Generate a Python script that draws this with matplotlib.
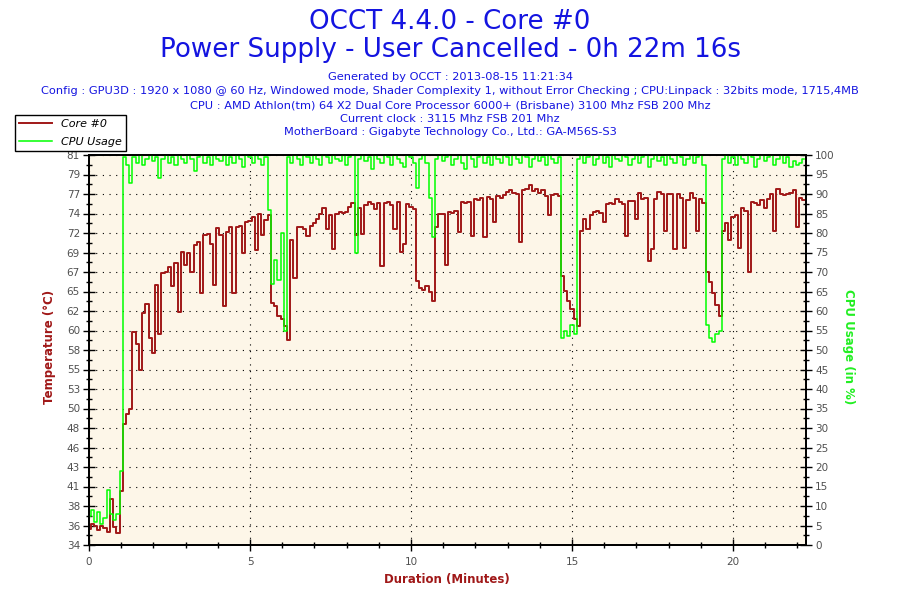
import matplotlib
matplotlib.use('agg')
import matplotlib.pyplot as plt
from matplotlib.ticker import AutoMinorLocator, FixedLocator, MultipleLocator
import numpy as np

# OCCT log, one sample every 6 seconds
SAMPLE_SECONDS = 6
TEST_SECONDS = 22 * 60 + 16

core0_temp = [
    36.2, 36.8, 36.5, 36.1, 36.6, 36.3, 35.8, 39.8, 36.4, 35.7,
    40.8, 49.0, 50.2, 50.8, 60.2, 58.8, 55.6, 62.5, 63.6, 59.5,
    57.6, 66.0, 60.0, 67.4, 67.6, 68.1, 65.8, 68.6, 62.6, 70.0,
    68.4, 69.8, 67.5, 70.8, 71.2, 65.0, 72.0, 72.2, 71.0, 66.0,
    72.9, 72.0, 63.4, 72.4, 73.0, 65.0, 73.0, 73.2, 69.8, 73.6,
    73.8, 74.3, 70.2, 74.6, 72.0, 73.9, 74.5, 63.8, 63.4, 62.2,
    61.8, 61.0, 59.2, 71.4, 66.8, 73.0, 73.0, 72.8, 71.9, 73.2,
    73.5, 74.0, 74.6, 75.3, 72.8, 74.5, 70.4, 74.6, 74.9, 74.8,
    74.9, 75.5, 76.0, 72.0, 75.3, 72.2, 75.7, 76.1, 75.8, 75.2,
    76.0, 68.3, 76.0, 76.1, 75.7, 72.8, 76.1, 70.0, 71.0, 75.8,
    75.5, 75.2, 66.5, 65.6, 65.3, 65.8, 65.1, 64.0, 73.0, 74.6,
    74.6, 68.4, 74.9, 74.7, 75.0, 72.4, 76.1, 76.0, 76.1, 71.9,
    76.5, 76.3, 76.6, 71.8, 76.7, 76.5, 73.6, 76.8, 76.6, 76.9,
    77.3, 77.5, 77.2, 77.0, 71.2, 77.6, 77.7, 78.2, 77.4, 77.7,
    77.2, 77.5, 76.8, 74.5, 76.9, 77.0, 76.8, 67.0, 65.2, 64.0,
    63.0, 61.8, 61.0, 72.5, 74.0, 72.8, 74.5, 74.9, 75.0, 74.8,
    73.7, 75.8, 76.0, 75.9, 76.5, 76.1, 75.9, 71.9, 76.2, 76.2,
    74.0, 77.2, 76.5, 76.6, 68.9, 70.3, 76.5, 77.3, 77.0, 72.5,
    77.1, 77.0, 70.3, 77.0, 76.6, 70.5, 76.3, 77.2, 76.6, 72.6,
    76.4, 76.0, 67.5, 66.3, 65.0, 63.5, 62.2, 72.5, 73.5, 71.5,
    74.2, 74.5, 70.5, 75.4, 75.0, 67.6, 76.1, 76.0, 75.7, 76.3,
    75.3, 76.4, 77.0, 72.6, 77.7, 77.0, 76.9, 77.1, 77.2, 77.5,
    73.0, 76.6, 76.3,
]

cpu_usage = [
    7.5, 9.0, 6.0, 8.5, 5.5, 7.0, 14.0, 8.0, 6.5, 8.0,
    19.0, 99.5, 97.5, 92.8, 99.5, 98.0, 100, 97.5, 99.0, 100,
    98.5, 99.5, 94.0, 99.0, 100, 98.0, 99.5, 97.5, 100, 99.0,
    98.0, 100, 99.0, 96.0, 99.5, 100, 98.0, 99.5, 97.5, 100,
    99.0, 98.5, 100, 97.5, 99.5, 98.0, 100, 99.0, 97.0, 100,
    99.5, 98.0, 100, 99.0, 97.5, 99.5, 86.0, 67.0, 73.0, 68.0,
    80.0, 55.0, 99.5, 98.0, 100, 99.0, 97.5, 100, 99.5, 98.0,
    100, 99.0, 97.5, 100, 99.5, 98.0, 100, 99.0, 98.5, 100,
    97.5, 99.5, 100, 74.8, 99.0, 100, 98.5, 99.5, 96.5, 100,
    99.0, 98.0, 100, 99.5, 97.5, 100, 99.0, 98.0, 97.0, 100,
    99.5, 98.0, 91.5, 99.0, 100, 98.0, 89.0, 79.0, 99.0, 100,
    98.5, 99.5, 100, 97.5, 99.0, 100, 98.0, 96.5, 100, 99.0,
    97.0, 99.5, 100, 98.0, 99.5, 97.5, 100, 99.0, 98.0, 100,
    99.5, 97.5, 100, 99.0, 98.0, 100, 99.5, 97.0, 99.0, 100,
    98.5, 99.5, 97.5, 100, 99.0, 98.0, 99.5, 53.0, 55.0, 53.5,
    56.4, 54.0, 99.0, 100, 98.0, 99.5, 100, 97.5, 99.0, 100,
    98.0, 99.5, 97.0, 100, 99.0, 98.5, 100, 99.5, 97.5, 99.0,
    100, 98.0, 99.5, 100, 97.0, 99.0, 100, 98.5, 99.5, 97.5,
    100, 99.0, 98.0, 100, 99.5, 97.5, 99.0, 100, 98.0, 99.5,
    100, 97.5, 56.4, 53.0, 52.0, 54.0, 55.0, 99.0, 100, 98.0,
    99.5, 97.5, 100, 99.0, 98.0, 100, 99.5, 97.0, 99.0, 100,
    98.5, 99.5, 100, 97.5, 99.0, 100, 98.0, 99.5, 97.0, 98.5,
    97.5, 98.0, 99.0,
]

# left axis is scaled so that its ticks sit on the 5 % steps of the right one
TEMP_MIN, TEMP_MAX = 34.22, 81.82
temp_tick_labels = ['34', '36', '38', '41', '43', '46', '48', '50', '53', '55',
                    '58', '60', '62', '65', '67', '69', '72', '74', '77', '79',
                    '81']
cpu_ticks = [0, 5, 10, 15, 20, 25, 30, 35, 40, 45, 50,
             55, 60, 65, 70, 75, 80, 85, 90, 95, 100]
duration_ticks = [0, 5, 10, 15, 20]

title_lines = ['OCCT 4.4.0 - Core #0',
               'Power Supply - User Cancelled - 0h 22m 16s']
info_lines = [
    'Generated by OCCT : 2013-08-15 11:21:34',
    'Config : GPU3D : 1920 x 1080 @ 60 Hz, Windowed mode, Shader Complexity 1, '
    'without Error Checking ; CPU:Linpack : 32bits mode, 1715,4MB',
    'CPU : AMD Athlon(tm) 64 X2 Dual Core Processor 6000+ (Brisbane) '
    '3100 Mhz FSB 200 Mhz',
    'Current clock : 3115 Mhz FSB 201 Mhz',
    'MotherBoard : Gigabyte Technology Co., Ltd.: GA-M56S-S3',
]

BLUE = '#1414e0'
RED = '#a01818'
GREEN = '#00ff00'
TICK_TEXT = '#505050'

plt.rcParams['font.family'] = ['DejaVu Sans']

minutes = np.arange(len(core0_temp)) * SAMPLE_SECONDS / 60.

fig = plt.figure(figsize=(9, 6), dpi=100)
W, H = 900., 600.
ax = fig.add_axes([89 / W, 55 / H, 717 / W, 390 / H])
ax.set_facecolor('#fdf6e8')
line_t, = ax.plot(minutes, core0_temp, color=RED, lw=1.4, label='Core #0',
                  drawstyle='steps-mid')
ax.set_xlim(0, TEST_SECONDS / 60.)
ax.set_ylim(TEMP_MIN, TEMP_MAX)

ax2 = ax.twinx()
line_c, = ax2.plot(minutes, cpu_usage, color=GREEN, lw=1.1, label='CPU Usage',
                   drawstyle='steps-mid')
ax2.set_ylim(0, 100)

# ticks
temp_ticks = np.linspace(TEMP_MIN, TEMP_MAX, len(temp_tick_labels))
ax.yaxis.set_major_locator(FixedLocator(temp_ticks))
ax.set_yticklabels(temp_tick_labels)
ax.yaxis.set_minor_locator(AutoMinorLocator(2))
ax.xaxis.set_major_locator(FixedLocator(duration_ticks))
ax.xaxis.set_minor_locator(MultipleLocator(1))
ax2.yaxis.set_major_locator(FixedLocator(cpu_ticks))
ax2.yaxis.set_minor_locator(AutoMinorLocator(2))

for a in (ax, ax2):
    a.tick_params(which='major', direction='inout', length=9, width=1.0,
                  color='black', labelcolor=TICK_TEXT, labelsize=7.5, pad=2)
    a.tick_params(which='minor', direction='inout', length=4, width=1.0,
                  color='black')
    for s in a.spines.values():
        s.set_linewidth(1.3)
        s.set_color('black')
ax.tick_params(axis='x', which='major', pad=4)

# dotted grid
ax.grid(True, which='major', color='black', linestyle=(0, (1, 5)),
        linewidth=0.8)
ax.set_axisbelow(True)

# titles and info block
fig.text(0.5, 1 - 22 / H, title_lines[0], ha='center', va='center',
         fontsize=18.8, color=BLUE)
fig.text(0.5, 1 - 50 / H, title_lines[1], ha='center', va='center',
         fontsize=18.8, color=BLUE)
for txt, yy in zip(info_lines, [77, 91, 105, 119, 132]):
    fig.text(0.5, 1 - yy / H, txt, ha='center', va='center',
             fontsize=8.2, color=BLUE)

# axis titles
fig.text(50 / W, 1 - 347 / H, 'Temperature (\u00b0C)', rotation=90,
         ha='center', va='center', fontsize=8.5, fontweight='bold', color=RED)
fig.text(848 / W, 1 - 347 / H, 'CPU Usage (in %)', rotation=270,
         ha='center', va='center', fontsize=8.5, fontweight='bold',
         color='#22ee22')
fig.text(447 / W, 1 - 579 / H, 'Duration (Minutes)', ha='center',
         va='center', fontsize=8.5, fontweight='bold', color=RED)

leg = fig.legend(handles=[line_t, line_c], loc='upper left',
                 bbox_to_anchor=(15 / W, 1 - 115 / H),
                 bbox_transform=fig.transFigure, frameon=True, fancybox=False,
                 edgecolor='black', framealpha=1, borderpad=0.35,
                 handlelength=3.0, labelspacing=0.75, borderaxespad=0,
                 prop={'style': 'italic', 'size': 8})
leg.get_frame().set_linewidth(1.0)

fig.savefig('out.png', dpi=100)
plt.close()
